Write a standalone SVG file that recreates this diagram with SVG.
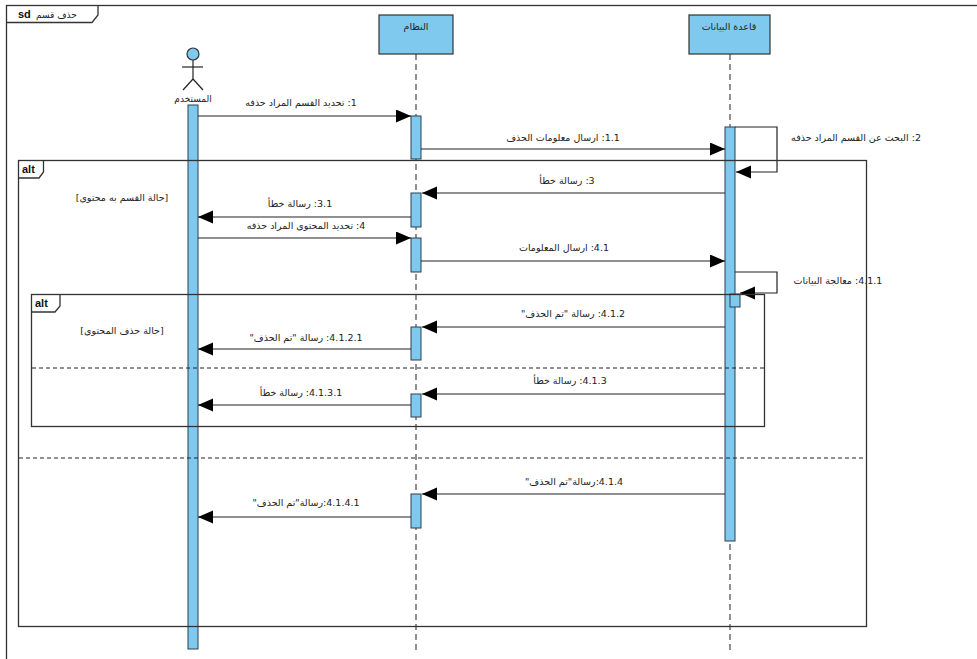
<svg xmlns="http://www.w3.org/2000/svg" width="977" height="659" viewBox="0 0 977 659">
<defs>
<style>
.ln{stroke:#222;stroke-width:1.2;fill:none}
.frm{stroke:#333;stroke-width:1.3;fill:none}
.dash{stroke:#222;stroke-width:1;stroke-dasharray:6 4;fill:none}
.bar{fill:#80C9EE;stroke:#2c3e50;stroke-width:1}
.hd{fill:#80C9EE;stroke:#333;stroke-width:1.2}
.t{font-family:"DejaVu Sans",sans-serif;font-size:9.5px;fill:#222;text-anchor:middle;direction:rtl}
.b{font-family:"Liberation Sans",Arial,sans-serif;font-size:11px;font-weight:bold;fill:#111}
</style>
<marker id="ah" markerUnits="userSpaceOnUse" markerWidth="16" markerHeight="14" refX="15" refY="6.5" orient="auto">
<path d="M0,0 L15,6.5 L0,13 z" fill="#000"/>
</marker>
</defs>
<rect width="977" height="659" fill="#fff"/>

<g id="frame">
<rect x="6.5" y="5.5" width="1000" height="700" class="frm"/>
<path d="M6.5,22.5 L92,22.5 L98,15 L98,5.5" class="frm"/>
<text x="18" y="18" class="b">sd</text>
<text x="36" y="18" style="font-family:'DejaVu Sans',sans-serif;font-size:9px;fill:#222">حذف قسم</text>
</g>

<g id="lifelines">
<line x1="416" y1="54" x2="416" y2="652" class="dash"/>
<line x1="730" y1="54" x2="730" y2="652" class="dash"/>
</g>

<g id="user">
<circle cx="193" cy="54" r="6" class="hd"/>
<line x1="193" y1="60" x2="193" y2="79" class="ln"/>
<line x1="182" y1="67" x2="203" y2="67" class="ln"/>
<line x1="193" y1="79" x2="183" y2="90" class="ln"/>
<line x1="193" y1="79" x2="203" y2="90" class="ln"/>
<text x="193" y="102" class="t" style="font-size:9px">المستخدم</text>
<rect x="188" y="105" width="10" height="544" class="bar"/>
</g>

<g id="system">
<rect x="379" y="15" width="74" height="39" class="hd"/>
<text x="416" y="30" class="t">النظام</text>
<rect x="411" y="116" width="10" height="43" class="bar"/>
<rect x="411" y="193" width="10" height="34" class="bar"/>
<rect x="411" y="238" width="10" height="34" class="bar"/>
<rect x="411" y="327" width="10" height="33" class="bar"/>
<rect x="411" y="394" width="10" height="23" class="bar"/>
<rect x="411" y="494" width="10" height="34" class="bar"/>
</g>

<g id="database">
<rect x="689" y="15" width="81" height="39" class="hd"/>
<text x="729" y="30" class="t">قاعدة البيانات</text>
<rect x="725" y="127" width="10" height="414" class="bar"/>
<rect x="730" y="294" width="10" height="13" class="bar"/>
</g>

<g id="connectors">
<line x1="198" y1="116" x2="411" y2="116" class="ln" marker-end="url(#ah)"/>
<line x1="421" y1="149" x2="725" y2="149" class="ln" marker-end="url(#ah)"/>
<polyline points="735,127 777,127 777,172 736,172" class="ln" marker-end="url(#ah)"/>
<line x1="725" y1="193" x2="422" y2="193" class="ln" marker-end="url(#ah)"/>
<line x1="411" y1="217" x2="198" y2="217" class="ln" marker-end="url(#ah)"/>
<line x1="198" y1="238" x2="411" y2="238" class="ln" marker-end="url(#ah)"/>
<line x1="421" y1="261" x2="725" y2="261" class="ln" marker-end="url(#ah)"/>
<polyline points="735,272 777,272 777,293 740,293" class="ln" marker-end="url(#ah)"/>
<line x1="725" y1="327" x2="422" y2="327" class="ln" marker-end="url(#ah)"/>
<line x1="411" y1="349" x2="198" y2="349" class="ln" marker-end="url(#ah)"/>
<line x1="725" y1="394" x2="422" y2="394" class="ln" marker-end="url(#ah)"/>
<line x1="411" y1="405" x2="198" y2="405" class="ln" marker-end="url(#ah)"/>
<line x1="725" y1="494" x2="422" y2="494" class="ln" marker-end="url(#ah)"/>
<line x1="411" y1="517" x2="198" y2="517" class="ln" marker-end="url(#ah)"/>
</g>

<g id="labels">
<text x="301" y="106" class="t">1: تحديد القسم المراد حذفه</text>
<text x="563" y="141" class="t">1.1: ارسال معلومات الحذف</text>
<text x="856" y="141" class="t">2: البحث عن القسم المراد حذفه</text>
<text x="567" y="184" class="t">3: رسالة خطأ</text>
<text x="300" y="207" class="t">3.1: رسالة خطأ</text>
<text x="306" y="229" class="t">4: تحديد المحتوى المراد حذفه</text>
<text x="564" y="251" class="t">4.1: ارسال المعلومات</text>
<text x="838" y="284" class="t">4.1.1: معالجة البيانات</text>
<text x="573" y="317" class="t">4.1.2: رسالة "تم الحذف"</text>
<text x="306" y="341" class="t">4.1.2.1: رسالة "تم الحذف"</text>
<text x="570" y="384" class="t">4.1.3: رسالة خطأ</text>
<text x="301" y="396" class="t">4.1.3.1: رسالة خطأ</text>
<text x="574" y="485" class="t">4.1.4:رسالة"تم الحذف"</text>
<text x="306" y="506" class="t">4.1.4.1:رسالة"تم الحذف"</text>
</g>

<g id="alt-outer">
<rect x="18.5" y="160.5" width="848" height="466" class="frm"/>
<path d="M18.5,178 L39,178 L43.5,172 L43.5,160.5" class="frm"/>
<text x="22" y="173" class="b">alt</text>
<text x="122" y="201" class="t">[حالة القسم به محتوى]</text>
<line x1="19" y1="458" x2="866" y2="458" class="dash" style="stroke-dasharray:4 3"/>
</g>

<g id="alt-inner">
<rect x="31.5" y="294.5" width="733" height="132" class="frm"/>
<path d="M31.5,312 L55,312 L60,306 L60,294.5" class="frm"/>
<text x="35" y="307" class="b">alt</text>
<text x="122" y="334" class="t">[حالة حذف المحتوى]</text>
<line x1="32" y1="368" x2="764" y2="368" class="dash" style="stroke-dasharray:4 3"/>
</g>
</svg>
